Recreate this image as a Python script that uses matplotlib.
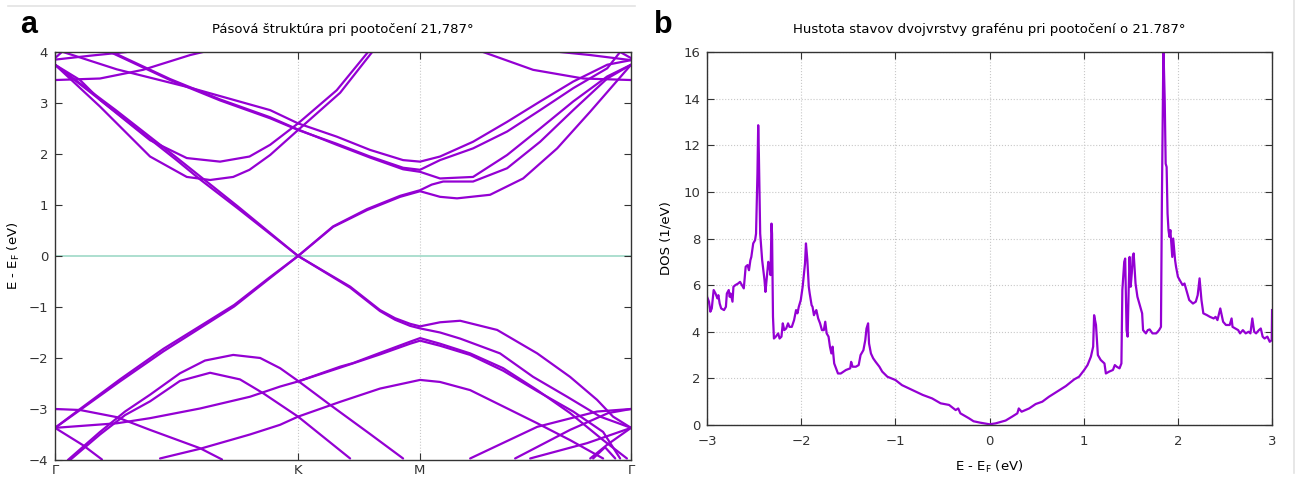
import matplotlib
matplotlib.use("Agg")
import matplotlib.pyplot as plt
from matplotlib.lines import Line2D

# ================= data: band structure (k in units of |ΓK|, E in eV) =================
k_ticks = [0.0, 1.0, 1.5, 2.37]
k_labels = ["Γ", "K", "M", "Γ"]

# conduction bands
dirac_c1_k = [0, 0.25, 0.5, 0.597, 0.75, 1.0, 1.144, 1.284, 1.42, 1.502, 1.584, 1.654, 1.79, 1.926, 2.066, 2.202, 2.37]
dirac_c1_E = [3.75, 2.82, 1.88, 1.50, 0.94, 0.0, 0.57, 0.90, 1.16, 1.27, 1.16, 1.13, 1.20, 1.52, 2.11, 2.83, 3.75]
dirac_c2_k = [0, 0.25, 0.5, 0.75, 1.0, 1.144, 1.284, 1.42, 1.502, 1.55, 1.597, 1.72, 1.86, 1.996, 2.132, 2.272, 2.37]
dirac_c2_E = [3.75, 2.86, 1.93, 0.98, 0.0, 0.58, 0.92, 1.18, 1.29, 1.40, 1.46, 1.46, 1.72, 2.24, 2.86, 3.48, 3.75]
band_b_k = [0, 0.103, 0.185, 0.391, 0.542, 0.679, 0.80, 0.885, 1.0, 1.159, 1.288]
band_b_E = [3.75, 3.45, 3.06, 2.27, 1.92, 1.85, 1.95, 2.18, 2.60, 3.25, 4.0]
band_c_k = [0, 0.185, 0.391, 0.542, 0.638, 0.733, 0.80, 0.885, 1.0, 1.173, 1.305]
band_c_E = [3.75, 2.93, 1.95, 1.55, 1.49, 1.55, 1.69, 1.98, 2.47, 3.20, 4.0]
band_da_k = [0.033, 0.254, 0.556, 0.885, 1.0, 1.159, 1.296, 1.432, 1.502, 1.584, 1.72, 1.86, 1.996, 2.132, 2.272, 2.37]
band_da_E = [4.0, 3.66, 3.30, 2.86, 2.60, 2.34, 2.08, 1.88, 1.85, 1.95, 2.24, 2.63, 3.03, 3.42, 3.75, 3.84]
band_db_k = [0.226, 0.473, 0.679, 0.885, 1.0, 1.159, 1.296, 1.432, 1.502, 1.584, 1.72, 1.86, 1.996, 2.132, 2.272, 2.325, 2.37]
band_db_E = [4.0, 3.45, 3.05, 2.70, 2.47, 2.20, 1.95, 1.73, 1.69, 1.88, 2.11, 2.44, 2.86, 3.29, 3.68, 4.0, 3.88]
band_dc_k = [0.235, 0.473, 0.679, 0.885, 1.0, 1.159, 1.296, 1.432, 1.502, 1.584, 1.72, 1.86, 1.996, 2.132, 2.272, 2.37]
band_dc_E = [4.0, 3.47, 3.07, 2.72, 2.48, 2.18, 1.93, 1.70, 1.65, 1.52, 1.55, 1.98, 2.50, 3.03, 3.52, 3.75]
top_a_k = [0, 0.185, 0.362, 0.556, 0.609]
top_a_E = [3.45, 3.48, 3.65, 3.94, 4.0]
top_a2_k = [1.761, 1.967, 2.173, 2.37]
top_a2_E = [4.0, 3.65, 3.48, 3.45]
top_t1_k = [0, 0.15, 0.296]
top_t1_E = [3.85, 3.93, 4.0]
top_t2_k = [0, 0.033]
top_t2_E = [3.88, 4.02]
top_t3_k = [2.078, 2.202, 2.37]
top_t3_E = [4.0, 3.94, 3.84]

# valence bands
dirac_v1_k = [0, 0.103, 0.267, 0.446, 0.585, 0.737, 0.88, 1.0, 1.214, 1.337, 1.399, 1.461, 1.502, 1.584, 1.667, 1.819, 1.984, 2.119, 2.230, 2.296, 2.37]
dirac_v1_E = [-3.37, -3.02, -2.46, -1.87, -1.45, -0.99, -0.45, 0.0, -0.60, -1.06, -1.22, -1.33, -1.38, -1.30, -1.27, -1.45, -1.91, -2.37, -2.82, -3.15, -3.37]
dirac_v2_k = [0, 0.103, 0.267, 0.446, 0.585, 0.737, 0.88, 1.0, 1.214, 1.337, 1.399, 1.461, 1.502, 1.584, 1.667, 1.831, 1.967, 2.107, 2.243, 2.37]
dirac_v2_E = [-3.37, -3.0, -2.42, -1.82, -1.41, -0.96, -0.43, 0.0, -0.62, -1.08, -1.25, -1.37, -1.42, -1.50, -1.62, -1.91, -2.37, -2.76, -3.15, -3.37]
flat_p1_k = [0, 0.255, 0.391, 0.597, 0.802, 0.926, 1.0, 1.173, 1.226, 1.337, 1.461, 1.502, 1.584, 1.708, 1.844, 1.984, 2.119, 2.255, 2.353]
flat_p1_E = [-3.37, -3.28, -3.18, -2.99, -2.76, -2.56, -2.46, -2.17, -2.10, -1.90, -1.68, -1.61, -1.72, -1.91, -2.20, -2.63, -3.08, -3.61, -3.97]
flat_p2_k = [1.0, 1.173, 1.337, 1.461, 1.502, 1.584, 1.708, 1.844, 1.984, 2.132, 2.255, 2.325]
flat_p2_E = [-2.46, -2.19, -1.93, -1.72, -1.66, -1.76, -1.94, -2.25, -2.65, -3.05, -3.45, -3.97]
hump_up_k = [0.053, 0.185, 0.288, 0.391, 0.514, 0.617, 0.733, 0.844, 0.926, 1.0, 1.132, 1.296, 1.432]
hump_up_E = [-4.0, -3.45, -3.05, -2.72, -2.30, -2.05, -1.94, -2.0, -2.20, -2.45, -2.92, -3.49, -3.97]
hump_lo_k = [0.062, 0.185, 0.288, 0.391, 0.514, 0.638, 0.761, 0.856, 1.0, 1.214]
hump_lo_E = [-4.0, -3.50, -3.12, -2.85, -2.45, -2.29, -2.42, -2.69, -3.15, -3.97]
gam3_k = [0, 0.103, 0.254, 0.391, 0.597, 0.687]
gam3_E = [-3.0, -3.02, -3.16, -3.41, -3.77, -3.99]
steep_k = [0, 0.115, 0.193]
steep_E = [-3.37, -3.71, -3.99]
rise_k = [0.432, 0.597, 0.802, 0.926, 1.0, 1.173, 1.337, 1.502, 1.584, 1.708, 1.844, 1.984, 2.119, 2.255]
rise_E = [-3.97, -3.78, -3.50, -3.31, -3.15, -2.86, -2.60, -2.43, -2.47, -2.63, -2.95, -3.28, -3.61, -3.97]
r1_k = [1.708, 1.984, 2.230, 2.37]
r1_E = [-3.97, -3.35, -3.05, -3.0]
r2_k = [1.893, 2.119, 2.276, 2.37]
r2_E = [-3.97, -3.41, -3.08, -3.0]
r3_k = [1.955, 2.189, 2.37]
r3_E = [-3.97, -3.67, -3.37]
r4_k = [2.37, 2.272, 2.202]
r4_E = [-3.37, -3.70, -3.97]
r5_k = [2.214, 2.263, 2.305]
r5_E = [-3.97, -3.75, -3.97]

bands = [
    (dirac_c1_k, dirac_c1_E), (dirac_c2_k, dirac_c2_E), (band_b_k, band_b_E), (band_c_k, band_c_E),
    (band_da_k, band_da_E), (band_db_k, band_db_E), (band_dc_k, band_dc_E),
    (top_a_k, top_a_E), (top_a2_k, top_a2_E), (top_t1_k, top_t1_E), (top_t2_k, top_t2_E), (top_t3_k, top_t3_E),
    (dirac_v1_k, dirac_v1_E), (dirac_v2_k, dirac_v2_E), (flat_p1_k, flat_p1_E), (flat_p2_k, flat_p2_E),
    (hump_up_k, hump_up_E), (hump_lo_k, hump_lo_E), (gam3_k, gam3_E), (steep_k, steep_E), (rise_k, rise_E),
    (r1_k, r1_E), (r2_k, r2_E), (r3_k, r3_E), (r4_k, r4_E), (r5_k, r5_E),
]

# ================= data: density of states =================
dos_E = [-3.0, -2.98, -2.965, -2.95, -2.93, -2.91, -2.89, -2.88, -2.866, -2.85, -2.82, -2.80, -2.79, -2.77,
         -2.76, -2.75, -2.73, -2.72, -2.70, -2.67, -2.65, -2.63, -2.61, -2.59, -2.57, -2.555, -2.54, -2.53,
         -2.51, -2.49, -2.48, -2.465, -2.457, -2.45, -2.436, -2.415, -2.39, -2.38, -2.365, -2.35, -2.337,
         -2.326, -2.316, -2.31, -2.30, -2.29, -2.27, -2.245, -2.23, -2.21, -2.196, -2.18, -2.16, -2.14,
         -2.125, -2.10, -2.076, -2.055, -2.04, -2.026, -2.005, -1.985, -1.96, -1.95, -1.935, -1.92, -1.91,
         -1.89, -1.88, -1.865, -1.85, -1.84, -1.82, -1.80, -1.78, -1.76, -1.745, -1.73, -1.71, -1.695,
         -1.68, -1.667, -1.65, -1.63, -1.61, -1.58, -1.525, -1.48, -1.47, -1.455, -1.42, -1.39, -1.37,
         -1.34, -1.32, -1.307, -1.29, -1.28, -1.26, -1.236, -1.21, -1.17, -1.14, -1.085, -1.0, -0.93,
         -0.82, -0.71, -0.61, -0.52, -0.43, -0.36, -0.333, -0.31, -0.22, -0.17, -0.10, 0.0, 0.064, 0.17,
         0.24, 0.295, 0.31, 0.34, 0.42, 0.49, 0.56, 0.63, 0.70, 0.81, 0.90, 0.95, 1.005, 1.04, 1.076,
         1.10, 1.11, 1.13, 1.15, 1.18, 1.22, 1.235, 1.27, 1.31, 1.33, 1.35, 1.38, 1.40, 1.41, 1.43, 1.44,
         1.455, 1.466, 1.477, 1.487, 1.498, 1.51, 1.52, 1.53, 1.55, 1.57, 1.59, 1.62, 1.63, 1.66, 1.68,
         1.70, 1.73, 1.77, 1.80, 1.82, 1.83, 1.846, 1.86, 1.87, 1.88, 1.89, 1.90, 1.91, 1.92, 1.94, 1.95,
         1.97, 1.98, 2.0, 2.02, 2.05, 2.07, 2.09, 2.10, 2.12, 2.16, 2.19, 2.21, 2.23, 2.25, 2.27, 2.31,
         2.34, 2.38, 2.40, 2.42, 2.45, 2.48, 2.51, 2.55, 2.57, 2.58, 2.61, 2.64, 2.66, 2.69, 2.72, 2.75,
         2.77, 2.79, 2.81, 2.83, 2.86, 2.88, 2.90, 2.92, 2.95, 2.975, 2.996, 3.0]
dos_val = [5.5, 5.29, 4.86, 5.0, 5.79, 5.64, 5.43, 5.57, 5.21, 5.0, 4.93, 5.07, 5.64, 5.79,
           5.5, 5.64, 5.29, 5.93, 6.0, 6.07, 6.14, 6.0, 5.86, 6.79, 6.86, 6.64, 7.07, 7.21,
           7.79, 7.93, 8.21, 10.79, 12.86, 11.64, 8.21, 7.07, 6.21, 5.71, 6.36, 7.0, 6.79,
           6.43, 8.64, 8.21, 4.64, 3.71, 3.79, 3.93, 3.71, 3.79, 4.36, 4.07, 4.14, 4.36,
           4.21, 4.21, 4.5, 4.93, 4.79, 5.07, 5.36, 5.93, 6.93, 7.79, 7.07, 5.93, 5.64,
           5.14, 5.07, 4.71, 4.86, 4.93, 4.57, 4.36, 4.07, 4.07, 4.43, 3.93, 3.79, 3.36,
           3.07, 3.36, 2.64, 2.43, 2.21, 2.21, 2.36, 2.43, 2.71, 2.5, 2.5, 2.57, 3.0,
           3.21, 3.64, 4.14, 4.36, 3.5, 3.07, 2.86, 2.71, 2.5, 2.29, 2.07, 1.93, 1.71,
           1.5, 1.29, 1.14, 0.93, 0.86, 0.64, 0.71, 0.5, 0.29, 0.16, 0.10, 0.03, 0.07, 0.19,
           0.36, 0.5, 0.71, 0.57, 0.71, 0.9, 1.0, 1.21, 1.39, 1.67, 1.96, 2.07, 2.36, 2.57, 2.93,
           3.36, 4.71, 4.29, 3.0, 2.79, 2.64, 2.21, 2.29, 2.36, 2.57, 2.5, 2.43, 2.64, 5.79, 7.0, 7.14,
           4.07, 3.79, 5.79, 7.21, 5.93, 6.5, 7.21, 7.36, 6.07, 5.5, 5.21, 4.79, 4.07, 3.93, 4.07,
           4.1, 3.93, 3.93, 4.07, 4.21, 9.64, 16.2, 13.93, 11.21, 11.07, 9.07, 8.36, 8.07, 8.36, 7.21, 8.0,
           7.07, 6.79, 6.36, 6.21, 6.0, 6.07, 5.79, 5.64, 5.36, 5.21, 5.29, 5.57, 6.29, 5.36, 4.79, 4.71,
           4.64, 4.57, 4.64, 4.5, 5.0, 4.43, 4.29, 4.29, 4.57, 4.21, 4.14, 4.07, 3.93, 4.07, 3.93, 4.0,
           3.93, 4.57, 4.0, 3.93, 4.07, 4.14, 3.79, 3.71, 3.79, 3.57, 3.64, 4.93]

# ================= style =================
plt.rcParams['font.family'] = ['DejaVu Sans']
LINE_COLOR = '#9400d3'
GRID_COLOR = '#c8c8c8'
FS = 9.5

fig = plt.figure(figsize=(12.95, 4.8), dpi=100)
ax_b = fig.add_axes([0.0425, 0.0417, 0.4448, 0.85])
ax_d = fig.add_axes([0.546, 0.1146, 0.4363, 0.777])

# ----------------- band structure -----------------
ax_b.axhline(0, color='#a6dccb', lw=1.3, zorder=1)
for xv in k_ticks[1:3]:
    ax_b.axvline(xv, color=GRID_COLOR, lw=0.8, ls=':', zorder=0)
for kk, ee in bands:
    ax_b.plot(kk, ee, color=LINE_COLOR, lw=1.6, zorder=2, solid_capstyle='round')
ax_b.set_xlim(k_ticks[0], k_ticks[-1])
ax_b.set_ylim(-4, 4)
ax_b.set_xticks(k_ticks)
ax_b.set_xticklabels(k_labels)
ax_b.set_yticks(range(-4, 5))
ax_b.set_title("Pásová štruktúra pri pootočení 21,787°", fontsize=FS, pad=14)
ax_b.set_ylabel("E - E$_\\mathregular{F}$ (eV)", fontsize=FS, labelpad=5)

# ----------------- DOS -----------------
ax_d.plot(dos_E, dos_val, color=LINE_COLOR, lw=1.6, zorder=2)
ax_d.set_xlim(-3, 3)
ax_d.set_ylim(0, 16)
ax_d.set_xticks(range(-3, 4))
ax_d.set_yticks(range(0, 17, 2))
ax_d.grid(True, color=GRID_COLOR, ls=':', lw=0.8)
ax_d.set_axisbelow(True)
ax_d.set_title("Hustota stavov dvojvrstvy grafénu pri pootočení o 21.787°", fontsize=FS, pad=14)
ax_d.set_ylabel("DOS (1/eV)", fontsize=FS, labelpad=8)
ax_d.set_xlabel("E - E$_\\mathregular{F}$ (eV)", fontsize=FS, labelpad=8)

for ax in (ax_b, ax_d):
    ax.tick_params(direction='in', top=True, right=True, length=5, width=0.8,
                   labelsize=FS, colors='#333333')
    ax.tick_params(axis='y', pad=5)
    for sp in ax.spines.values():
        sp.set_color('#333333')
        sp.set_linewidth(1.0)
ax_b.tick_params(axis='x', pad=3)
ax_d.tick_params(axis='x', pad=7)

# panel letters and thin frame lines
fig.text(0.0155, 0.948, "a", fontsize=22, fontweight='bold', family='Liberation Sans', va='center')
fig.text(0.505, 0.948, "b", fontsize=22, fontweight='bold', family='Liberation Sans', va='center')
fig.add_artist(Line2D([0.006, 0.49], [0.9875, 0.9875], color='#e3e3e3', lw=1.2))
fig.add_artist(Line2D([0.9995, 0.9995], [0.015, 1.0], color='#e3e3e3', lw=1.2))

fig.savefig("out.png", dpi=100)
